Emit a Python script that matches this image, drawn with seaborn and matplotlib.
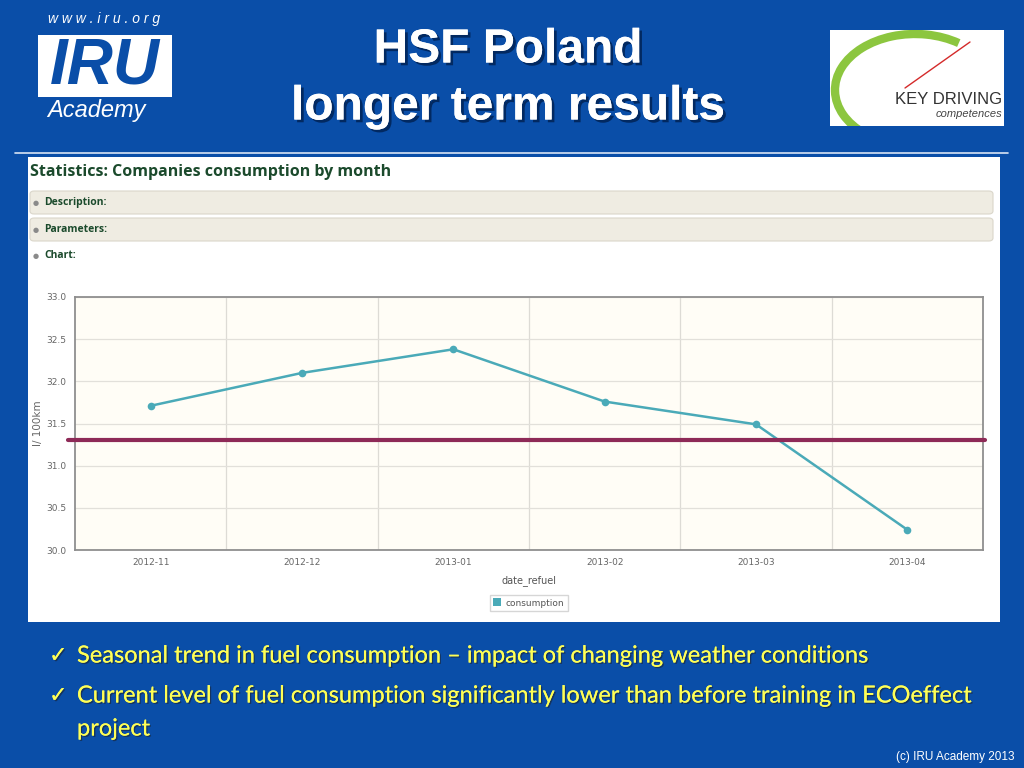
import matplotlib
matplotlib.use("Agg")
import matplotlib.pyplot as plt
import matplotlib.patheffects as pe
from matplotlib.patches import Rectangle, FancyBboxPatch, Arc
import seaborn as sns
import pandas as pd

# ---- data ----
months = ["2012-11", "2012-12", "2013-01", "2013-02", "2013-03", "2013-04"]
consumption = [31.71, 32.10, 32.38, 31.76, 31.49, 30.24]
baseline = 31.30
y_ticks = [30.0, 30.5, 31.0, 31.5, 32.0, 32.5, 33.0]

df = pd.DataFrame({"date_refuel": months, "consumption": consumption})

sns.set_theme(style="white")
W, H = 1024, 768
fig = plt.figure(figsize=(W / 100, H / 100), dpi=100)
BG = "#0A4EA8"
fig.patch.set_facecolor(BG)

def fx(px):
    return px / W

def fy(py):
    return 1 - py / H

# white separator line
fig.add_artist(plt.Line2D([fx(15), fx(1008)], [fy(153), fy(153)], color="#D8E4F4", lw=1.2, zorder=-5))

# white panel
fig.add_artist(Rectangle((fx(28), fy(622)), fx(1000) - fx(28), fy(157) - fy(622),
                         transform=fig.transFigure, facecolor="white", edgecolor="none", zorder=-5))

# collapsible bars
for top, label in [(191, "Description:"), (218, "Parameters:")]:
    fig.add_artist(FancyBboxPatch((fx(30), fy(top + 23)), fx(993) - fx(30), fy(top) - fy(top + 23),
                                  boxstyle="round,pad=0,rounding_size=0.004",
                                  transform=fig.transFigure, facecolor="#EFECE2",
                                  edgecolor="#DAD6CA", lw=0.8, zorder=-4))
    fig.text(fx(36), fy(top + 12), "●", color="#8A8A8A", fontsize=5, va="center", ha="center")
    fig.text(fx(44), fy(top + 12), label, color="#1B4A2C", fontsize=7.5, fontweight="bold",
             va="center", family="Open Sans")
fig.text(fx(36), fy(256), "●", color="#8A8A8A", fontsize=5, va="center", ha="center")
fig.text(fx(44), fy(256), "Chart:", color="#1B4A2C", fontsize=7.5, fontweight="bold",
         va="center", family="Open Sans")

fig.text(fx(30), fy(172), "Statistics: Companies consumption by month", color="#1B4A2C",
         fontsize=11.5, fontweight="bold", va="center", family="Open Sans")

# title
shadow = [pe.withSimplePatchShadow(offset=(2, -2), shadow_rgbFace="#002050", alpha=0.8), pe.Normal()]
fig.text(fx(508), fy(50), "HSF Poland", color="white", fontsize=34.5, fontweight="bold",
         ha="center", va="center", family="Liberation Sans", path_effects=shadow)
fig.text(fx(508), fy(107), "longer term results", color="white", fontsize=34.5, fontweight="bold",
         ha="center", va="center", family="Liberation Sans", path_effects=shadow)

# IRU logo
fig.text(fx(104), fy(19), "w w w . i r u . o r g", color="white", fontsize=10, style="italic",
         ha="center", va="center", family="Liberation Sans")
fig.add_artist(Rectangle((fx(38), fy(97)), fx(172) - fx(38), fy(35) - fy(97),
                         transform=fig.transFigure, facecolor="white", edgecolor="none"))
fig.text(fx(105), fy(66), "IRU", color=BG, fontsize=46, fontweight="bold", style="italic",
         ha="center", va="center", family="Liberation Sans")
fig.text(fx(96), fy(111), "Academy", color="white", fontsize=17, style="italic",
         ha="center", va="center", family="Liberation Sans")

# Key Driving logo
kd_box = Rectangle((fx(830), fy(126)), fx(1004) - fx(830), fy(30) - fy(126),
                   transform=fig.transFigure, facecolor="white", edgecolor="none")
fig.add_artist(kd_box)
arc = Arc((fx(915), fy(90)), fx(160) - fx(0), fy(0) - fy(112), theta1=55, theta2=255,
          transform=fig.transFigure, color="#8CC63F", lw=6)
fig.add_artist(arc)
arc.set_clip_path(kd_box)
fig.add_artist(plt.Line2D([fx(905), fx(970)], [fy(88), fy(42)], color="#D42A2A", lw=1))
fig.text(fx(1002), fy(99), "KEY DRIVING", color="#333333", fontsize=12, ha="right", va="center",
         family="Liberation Sans")
fig.text(fx(1002), fy(114), "competences", color="#444444", fontsize=8, style="italic",
         ha="right", va="center", family="Liberation Sans")

# ---- chart ----
ax = fig.add_axes([fx(75), fy(550), fx(983) - fx(75), fy(297) - fy(550)])
ax.set_zorder(2)
ax.set_facecolor("#FFFDF6")
sns.lineplot(data=df, x="date_refuel", y="consumption", ax=ax, color="#4AAAB8",
             marker="o", markersize=5.5, markeredgewidth=0, lw=1.8, label="consumption",
             sort=False)
ax.axhline(baseline, color="#8E2A57", lw=3, xmin=-0.008, xmax=1.002, clip_on=False, zorder=5)
ax.set_xlim(-0.5, len(months) - 0.5)
ax.set_ylim(30.0, 33.0)
ax.set_yticks(y_ticks)
ax.set_yticklabels([f"{v:.1f}" for v in y_ticks])
ax.set_xticks(range(len(months)))
ax.set_xticklabels(months)
ax.set_xticks([i + 0.5 for i in range(len(months) - 1)], minor=True)
ax.grid(True, axis="y", which="major", color="#E2E0DA", lw=0.9)
ax.grid(True, axis="x", which="minor", color="#DDDBD5", lw=0.9)
ax.grid(False, axis="x", which="major")
ax.tick_params(axis="both", which="major", labelsize=6.5, colors="#666666", length=0, pad=6)
ax.tick_params(axis="x", which="minor", length=0)
for s in ax.spines.values():
    s.set_color("#8F8F8F")
    s.set_linewidth(1.3)
ax.set_xlabel("date_refuel", fontsize=7, color="#555555")
ax.xaxis.set_label_coords(0.5, -0.10)
ax.set_ylabel("l/ 100km", fontsize=7.5, color="#666666")
ax.yaxis.set_label_coords(-0.035, 0.5)
leg = ax.legend(loc="upper center", bbox_to_anchor=(0.5, -0.16), fontsize=6.5, frameon=True,
                fancybox=False, edgecolor="#CCCCCC", handlelength=0.8, handletextpad=0.5,
                borderpad=0.4, labelcolor="#555555")
for h in leg.legend_handles:
    h.set_linestyle("none")
    h.set_marker("s")
    h.set_markersize(6)

# bullets
yellow = "#FFFF55"
tshadow = [pe.withSimplePatchShadow(offset=(1, -1), shadow_rgbFace="#1A2A40", alpha=0.7), pe.Normal()]
fig.text(fx(49), fy(656), "✓", color=yellow, fontsize=16, va="center", family="DejaVu Sans",
         path_effects=tshadow)
fig.text(fx(77), fy(656), "Seasonal trend in fuel consumption \u2013 impact of changing weather conditions",
         color=yellow, fontsize=17, va="center", family="Lato", path_effects=tshadow)
fig.text(fx(49), fy(696), "✓", color=yellow, fontsize=16, va="center", family="DejaVu Sans",
         path_effects=tshadow)
fig.text(fx(77), fy(696), "Current level of fuel consumption significantly lower than before training in ECOeffect",
         color=yellow, fontsize=17, va="center", family="Lato", path_effects=tshadow)
fig.text(fx(77), fy(729), "project", color=yellow, fontsize=17, va="center", family="Lato",
         path_effects=tshadow)

fig.text(fx(1014), fy(757), "(c) IRU Academy 2013", color="white", fontsize=8.5, ha="right",
         va="center", family="Liberation Sans")

fig.savefig("out.png", dpi=100, facecolor=BG)
